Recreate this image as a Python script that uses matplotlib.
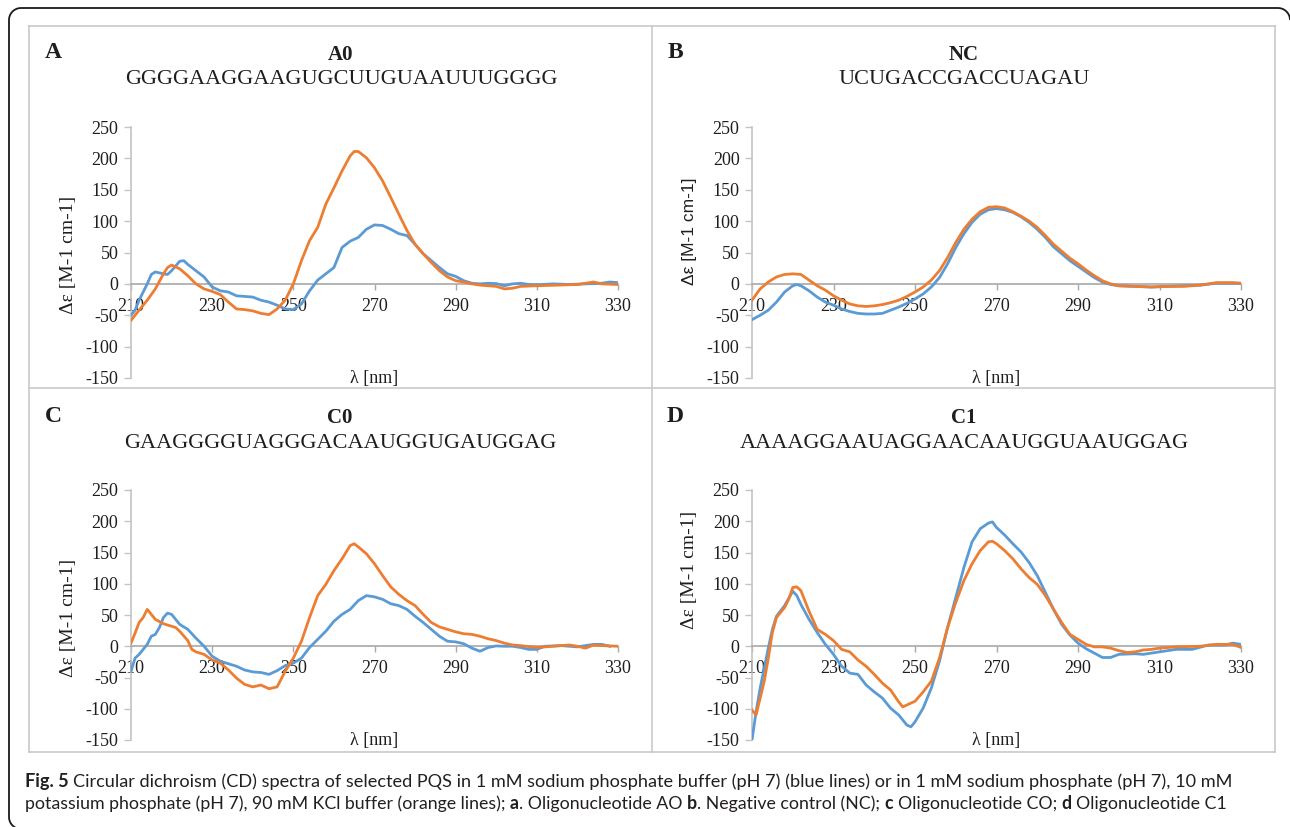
import numpy as np
import matplotlib
matplotlib.use("Agg")
import matplotlib.pyplot as plt
from matplotlib.lines import Line2D

plt.rcParams["axes.unicode_minus"] = False

W_PX, H_PX = 1290, 827
BLUE = "#5b9bd5"
ORANGE = "#ed7d31"
SERIF = "Liberation Serif"
SANS = "Liberation Sans"

wavelength_ticks = [210, 230, 250, 270, 290, 310, 330]
de_ticks = [-150, -100, -50, 0, 50, 100, 150, 200, 250]
x_label = "λ [nm]"
y_label = "Δε [M-1 cm-1]"

# ---- A0: GGGGAAGGAAGUGCUUGUAAUUUGGGG ----
a0_blue_nm = [210, 211, 212, 214, 215, 216, 218, 219, 220, 222, 223, 224, 226, 228, 230, 232, 234, 236, 238,
              240, 242, 244, 246, 248, 250, 252, 254, 256, 258, 260, 262, 264, 266, 268, 270, 272, 274, 276,
              278, 280, 282, 284, 286, 288, 290, 292, 294, 296, 298, 300, 302, 304, 306, 308, 310, 314, 318,
              322, 326, 328, 330]
a0_blue = [-50, -42, -26, 0, 15, 19, 16, 15, 21, 36, 37, 31, 21, 11, -5, -11, -13, -19, -20,
           -21, -26, -29, -34, -40, -41, -32, -11, 6, 16, 26, 58, 68, 74, 87, 94, 93, 87, 80,
           77, 63, 48, 37, 26, 16, 12, 5, 1, 0, 1, 0.5, -3, 0, 1, -1, -1.5, 0, -1,
           0, 1, 3, 2]
a0_orange_nm = [210, 212, 214, 216, 218, 219, 220, 222, 224, 226, 228, 230, 232, 234, 236, 238, 240, 242, 244,
                246, 248, 250, 252, 254, 256, 258, 260, 262, 264, 265, 266, 268, 270, 272, 274, 276, 278, 280,
                282, 284, 286, 288, 290, 292, 294, 296, 300, 302, 304, 306, 310, 315, 320, 324, 326, 330]
a0_orange = [-58, -42, -26, -8, 16, 26, 30, 24, 13, 0, -8, -12, -17, -29, -40, -41, -43, -47, -49,
             -40, -26, 0, 37, 69, 90, 127, 153, 180, 204, 211, 211, 201, 185, 164, 138, 111, 85, 63,
             48, 34, 21, 11, 5, 3, 0, -2, -4, -8, -7, -4, -3, -2, -1, 3, 0, -1]

# ---- NC: UCUGACCGACCUAGAU ----
nc_blue_nm = [210, 212, 214, 216, 218, 220, 221, 222, 224, 226, 228, 230, 232, 234, 236, 238, 240, 242, 244,
              246, 248, 250, 252, 254, 256, 258, 260, 262, 264, 266, 268, 270, 272, 274, 276, 278, 280, 282,
              284, 286, 288, 290, 292, 294, 296, 298, 300, 304, 308, 312, 316, 320, 324, 330]
nc_blue = [-57, -50, -42, -29, -13, -3, -1, -3, -11, -21, -29, -34, -40, -44, -47, -48, -48, -47, -42,
           -37, -31, -24, -16, -5, 10, 32, 58, 80, 98, 111, 118, 120, 118, 114, 107, 98, 87, 74,
           59, 48, 37, 28, 19, 10, 3, -1, -3, -4, -5, -4, -3, -2, 1, 1]
nc_orange_nm = [210, 212, 214, 216, 218, 220, 222, 224, 226, 228, 230, 232, 234, 236, 238, 240, 242, 244, 246,
                248, 250, 252, 254, 256, 258, 260, 262, 264, 266, 268, 270, 272, 274, 276, 278, 280, 282, 284,
                286, 288, 290, 292, 294, 296, 298, 300, 304, 308, 312, 316, 320, 324, 328, 330]
nc_orange = [-26, -8, 3, 11, 15, 16, 15, 6, -3, -10, -19, -26, -32, -35, -36, -35, -33, -30, -26,
             -20, -13, -5, 6, 21, 42, 66, 87, 103, 115, 122, 123, 121, 115, 108, 100, 90, 77, 63,
             52, 41, 32, 22, 13, 5, 0, -3, -4, -5, -4, -4, -2, 2, 2, 1]

# ---- C0: GAAGGGGUAGGGACAAUGGUGAUGGAG ----
c0_blue_nm = [210, 211, 212, 214, 215, 216, 217, 218, 219, 220, 222, 224, 226, 228, 230, 232, 234, 236, 238,
              240, 242, 244, 246, 248, 250, 252, 254, 256, 258, 260, 262, 264, 266, 268, 270, 272, 274, 276,
              278, 280, 282, 284, 286, 288, 290, 292, 294, 296, 298, 300, 302, 304, 306, 308, 310, 312, 316,
              320, 324, 326, 328]
c0_blue = [-40, -19, -13, 3, 16, 19, 30, 46, 53, 51, 35, 27, 13, 0, -16, -24, -28, -32, -38,
           -41, -42, -45, -39, -31, -27, -19, -2, 11, 24, 40, 51, 59, 73, 81, 79, 75, 68, 65,
           59, 48, 38, 27, 16, 8, 7, 4, -3, -8, -2, 0.5, 0, 0, -2, -5, -5, 0, 1,
           -1, 3, 3, 0]
c0_orange_nm = [210, 211, 212, 213, 214, 215, 216, 218, 220, 221, 222, 224, 225, 226, 228, 230, 232, 234, 236,
                238, 240, 242, 244, 246, 248, 250, 252, 254, 256, 258, 260, 262, 264, 265, 266, 268, 270, 272,
                274, 276, 278, 280, 282, 284, 286, 288, 290, 292, 294, 296, 298, 300, 302, 304, 306, 308, 310,
                314, 318, 320, 322, 324, 326, 330]
c0_orange = [5, 21, 38, 46, 59, 51, 43, 36, 32, 30, 24, 9, -5, -9, -13, -22, -27, -38, -51,
             -61, -65, -62, -68, -65, -40, -19, 8, 46, 81, 99, 121, 140, 161, 164, 159, 148, 132, 113,
             95, 83, 73, 65, 51, 38, 31, 27, 23, 20, 19, 16, 12, 9, 5, 2, 1, -0.5, -2,
             0, 2, 0, -3, 2, 1, 0]

# ---- C1: AAAAGGAAUAGGAACAAUGGUAAUGGAG ----
c1_blue_nm = [210, 211, 212, 213, 214, 215, 216, 218, 220, 221, 222, 224, 226, 228, 230, 232, 234, 236, 238,
              240, 242, 244, 246, 248, 249, 250, 252, 254, 256, 258, 260, 262, 264, 266, 268, 269, 270, 272,
              274, 276, 278, 280, 282, 284, 286, 288, 290, 292, 294, 296, 298, 300, 304, 306, 310, 314, 318,
              322, 326, 328, 330]
c1_blue = [-150, -105, -67, -35, -3, 27, 48, 65, 88, 81, 67, 43, 22, 3, -13, -32, -43, -45, -62,
           -73, -83, -99, -110, -126, -129, -121, -99, -67, -24, 30, 78, 126, 167, 188, 197, 199, 190, 178,
           164, 151, 134, 113, 86, 59, 35, 18, 5, -4, -11, -18, -18, -13, -12, -13, -9, -5, -5,
           2, 2, 5, 3]
c1_orange_nm = [210, 211, 212, 213, 214, 215, 216, 218, 219, 220, 221, 222, 224, 226, 228, 230, 232, 234, 236,
                238, 240, 242, 244, 246, 247, 248, 250, 252, 254, 256, 258, 260, 262, 264, 266, 268, 269, 270,
                272, 274, 276, 278, 280, 282, 284, 286, 288, 290, 292, 294, 296, 298, 300, 302, 304, 306, 308,
                310, 314, 320, 324, 328, 330]
c1_orange = [-102, -110, -83, -56, -19, 22, 46, 62, 75, 94, 95, 89, 56, 27, 19, 9, -5, -9, -22,
             -32, -45, -59, -70, -89, -97, -94, -88, -73, -56, -19, 30, 70, 105, 132, 153, 167, 168, 164,
             153, 140, 124, 110, 99, 81, 59, 38, 19, 11, 3, -1, -1, -3, -7, -10, -9, -6, -5,
             -3, -1, 0, 3, 3, -2]

panel_letters = ["A", "B", "C", "D"]
panel_names = ["A0", "NC", "C0", "C1"]
panel_sequences = ["GGGGAAGGAAGUGCUUGUAAUUUGGGG", "UCUGACCGACCUAGAU",
                   "GAAGGGGUAGGGACAAUGGUGAUGGAG", "AAAAGGAAUAGGAACAAUGGUAAUGGAG"]
panel_series = [
    ((a0_blue_nm, a0_blue), (a0_orange_nm, a0_orange)),
    ((nc_blue_nm, nc_blue), (nc_orange_nm, nc_orange)),
    ((c0_blue_nm, c0_blue), (c0_orange_nm, c0_orange)),
    ((c1_blue_nm, c1_blue), (c1_orange_nm, c1_orange)),
]

caption_lines = [
    [("Fig. 5", "bold"),
     (" Circular dichroism (CD) spectra of selected PQS in 1 mM sodium phosphate buffer (pH 7) "
      "(blue lines) or in 1 mM sodium phosphate (pH 7), 10 mM", "normal")],
    [("potassium phosphate (pH 7), 90 mM KCl buffer (orange lines); ", "normal"), ("a", "bold"),
     (". Oligonucleotide AO ", "normal"), ("b", "bold"), (". Negative control (NC); ", "normal"),
     ("c", "bold"), (" Oligonucleotide CO; ", "normal"), ("d", "bold"), (" Oligonucleotide C1", "normal")],
]

# ---------------------------------------------------------------- layout
fig = plt.figure(figsize=(W_PX / 100, H_PX / 100), dpi=100)


def fx(px):
    return px / W_PX


def fy(py):
    return 1 - py / H_PX


def arc(cx, cy, rad, a0, a1, n=12):
    ang = np.radians(np.linspace(a0, a1, n))
    return cx + rad * np.cos(ang), cy - rad * np.sin(ang)


# rounded outer frame: only the part inside the canvas (top, left and three corners)
R = 12
parts = [arc(1290 - R, 8 + R, R, 0, 90),
         (np.array([1290 - R, 9 + R]), np.array([8, 8])),
         arc(9 + R, 8 + R, R, 90, 180),
         (np.array([9, 9]), np.array([8 + R, 827 - R + 2])),
         arc(9 + R, 827 - R + 2, R, 180, 250)]
fx_pts = np.concatenate([p[0] for p in parts])
fy_pts = np.concatenate([p[1] for p in parts])
fig.add_artist(Line2D(fx(fx_pts), fy(fy_pts), color="#1a1a1a", lw=1.3,
                      solid_joinstyle="round", solid_capstyle="butt"))

# light grey grid separating the four panels
grid_col = "#c9c9c9"
for xv in (29, 652, 1275):
    fig.add_artist(Line2D([fx(xv), fx(xv)], [fy(26), fy(752)], color=grid_col, lw=1.2))
for yv in (26, 388, 752):
    fig.add_artist(Line2D([fx(29), fx(1275)], [fy(yv), fy(yv)], color=grid_col, lw=1.2))

# axes boxes in pixel space: (left, top, right, bottom)
axes_px = [(131, 127, 618, 378), (752, 127, 1241, 378), (131, 490, 618, 740), (752, 490, 1241, 740)]
letter_px = [(53, 52), (675, 52), (53, 416), (675, 416)]
title_px = [(341, 55, 79), (964, 55, 79), (340, 418, 443), (964, 418, 443)]
ylabel_px = [(68, 255, SERIF), (690, 231, SANS), (68, 618, SERIF), (690, 570, SERIF)]
text_col = "#1e1e1e"

for i in range(4):
    l, t, r, b = axes_px[i]
    ax = fig.add_axes([fx(l), fy(b), fx(r) - fx(l), fy(t) - fy(b)])
    (bx, by), (ox, oy) = panel_series[i]
    ax.plot(bx, by, color=BLUE, lw=2.0, solid_joinstyle="round", zorder=3)
    ax.plot(ox, oy, color=ORANGE, lw=2.0, solid_joinstyle="round", zorder=4)
    ax.set_xlim(210, 330)
    ax.set_ylim(-150, 250)
    ax.set_xticks(wavelength_ticks)
    ax.set_yticks(de_ticks)
    ax.patch.set_alpha(0)
    for s in ("top", "right"):
        ax.spines[s].set_visible(False)
    ax.spines["bottom"].set_position(("data", 0))
    ax.spines["bottom"].set_color("#a8a8a8")
    ax.spines["bottom"].set_linewidth(1.2)
    ax.spines["left"].set_color("#c4c4c4")
    ax.spines["left"].set_linewidth(1.2)
    ax.tick_params(axis="x", direction="out", length=4, width=1.0, color="#a8a8a8", pad=6,
                   labelsize=13, labelcolor=text_col)
    ax.tick_params(axis="y", direction="out", length=5, width=1.0, color="#c4c4c4", pad=4,
                   labelsize=13, labelcolor=text_col)
    for lab in ax.get_xticklabels() + ax.get_yticklabels():
        lab.set_fontfamily(SERIF)
    ax.text(0.5, 0.0, x_label, transform=ax.transAxes, ha="center", va="center",
            fontsize=13, family=SERIF, color=text_col)

    lx, ly = letter_px[i]
    fig.text(fx(lx), fy(ly), panel_letters[i], ha="center", va="center", fontsize=17,
             fontweight="bold", family=SERIF, color=text_col)
    tx, ty1, ty2 = title_px[i]
    fig.text(fx(tx), fy(ty1), panel_names[i], ha="center", va="center", fontsize=15,
             fontweight="bold", family=SERIF, color=text_col)
    fig.text(fx(tx), fy(ty2), panel_sequences[i], ha="center", va="center", fontsize=16,
             family=SERIF, color=text_col)
    yx, yy, yfam = ylabel_px[i]
    fig.text(fx(yx), fy(yy), y_label, ha="center", va="center", rotation=90,
             fontsize=14 if yfam == SERIF else 12.5, family=yfam, color=text_col)

# ---------------------------------------------------------------- caption
renderer = fig.canvas.get_renderer()
cap_family = ["Lato", "DejaVu Sans"]
cap_col = "#231f20"


def text_width(s, size, weight):
    t = fig.text(0, 0, s, fontsize=size, fontweight=weight, family=cap_family)
    w = t.get_window_extent(renderer=renderer).width
    t.remove()
    return w


def run_width(s, size, weight):
    core = s.strip(" ")
    n_lead = len(s) - len(s.lstrip(" "))
    n_trail = len(s) - len(s.rstrip(" "))
    sp = text_width("x x", size, weight) - text_width("xx", size, weight)
    return (text_width(core, size, weight) if core else 0) + (n_lead + n_trail) * sp, n_lead, sp


def draw_line(runs, x0, base_y, size):
    x = x0
    for s, weight in runs:
        w, n_lead, sp = run_width(s, size, weight)
        core = s.strip(" ")
        if core:
            fig.text(fx(x + n_lead * sp), fy(base_y), core, fontsize=size, fontweight=weight,
                     family=cap_family, color=cap_col, va="baseline", ha="left")
        x += w
    return x


def fitted_size(runs, target_w, base=10.0):
    return base * target_w / sum(run_width(s, base, w)[0] for s, w in runs)


draw_line(caption_lines[0], 25, 787, fitted_size(caption_lines[0], 1230 - 25))
draw_line(caption_lines[1], 25, 809, fitted_size(caption_lines[1], 1228 - 25))

fig.savefig("out.png", dpi=100)
